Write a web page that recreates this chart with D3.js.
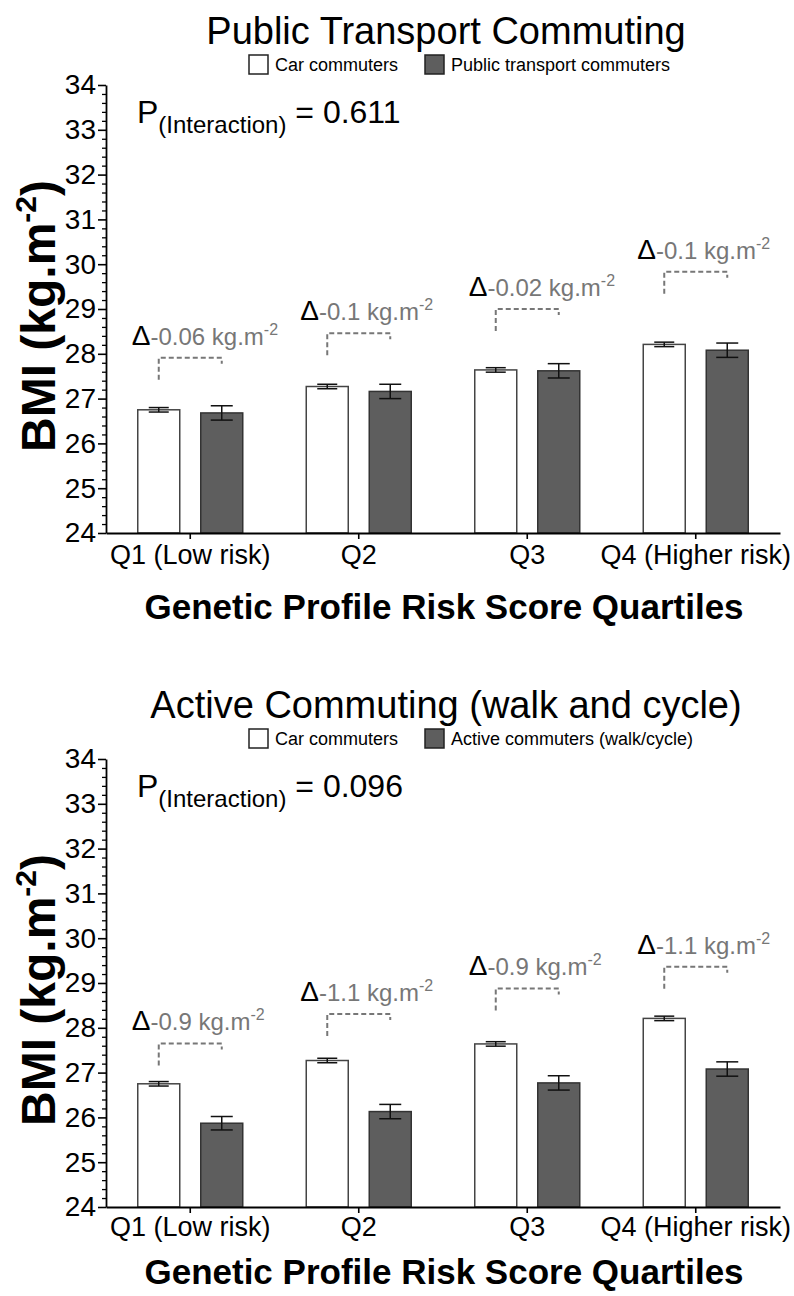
<!DOCTYPE html>
<html>
<head>
<meta charset="utf-8">
<script src="https://cdn.jsdelivr.net/npm/d3@7"></script>
<style>
  html, body { margin: 0; padding: 0; background: #fff; }
  svg { display: block; font-family: "Liberation Sans", Arial, sans-serif; }
</style>
</head>
<body>
<svg id="chart" width="794" height="1296"></svg>
<script>
// ---------------- DATA ----------------
const categories = ["Q1 (Low risk)", "Q2", "Q3", "Q4 (Higher risk)"];
const yTickValues = [24, 25, 26, 27, 28, 29, 30, 31, 32, 33, 34];
const panelTitles = ["Public Transport Commuting", "Active Commuting (walk and cycle)"];
const legendTop = ["Car commuters", "Public transport commuters"];
const legendBottom = ["Car commuters", "Active commuters (walk/cycle)"];
const carMean = [26.75, 27.27, 27.64, 28.21];
const carErr = [0.05, 0.05, 0.05, 0.05];
const ptMean = [26.68, 27.16, 27.62, 28.08];
const ptErr = [0.16, 0.16, 0.16, 0.16];
const activeMean = [25.87, 26.13, 26.77, 27.08];
const activeErr = [0.15, 0.16, 0.16, 0.16];
const ptDelta = ["-0.06", "-0.1", "-0.02", "-0.1"];
const activeDelta = ["-0.9", "-1.1", "-0.9", "-1.1"];
const ptBracket = [27.91, 28.46, 29.0, 29.83];
const activeBracket = [27.65, 28.31, 28.88, 29.36];
const pInteraction = ["0.611", "0.096"];
const yAxisTitle = "BMI (kg.m";
const xAxisTitle = "Genetic Profile Risk Score Quartiles";

// ---------------- DRAW ----------------
const svg = d3.select("#chart");
svg.append("rect").attr("width", 794).attr("height", 1296).attr("fill", "#fff");

const panels = [
  { offset: 0, title: panelTitles[0], legend: legendTop, other: ptMean, otherErr: ptErr,
    delta: ptDelta, bracket: ptBracket, p: pInteraction[0], xTitleY: 619, tickPad: 6 },
  { offset: 674, title: panelTitles[1], legend: legendBottom, other: activeMean, otherErr: activeErr,
    delta: activeDelta, bracket: activeBracket, p: pInteraction[1], xTitleY: 610, tickPad: 4 }
];

const DARK = "#5e5e5e";
const GREY = "#777777";

panels.forEach(P => {
  const g = svg.append("g").attr("transform", `translate(0,${P.offset})`);

  const x = d3.scaleBand().domain(categories).range([106, 780]);
  const x1 = d3.scaleBand().domain(["car", "other"]).range([-52.5, 52.5]).paddingInner(1 / 3);
  const y = d3.scaleLinear().domain([24, 34]).range([533, 85]);

  // Title
  g.append("text").attr("x", 446).attr("y", 44).attr("text-anchor", "middle")
    .attr("font-size", 38).attr("fill", "#000").text(P.title);

  // Legend
  const leg = g.append("g");
  const legItems = [
    { x: 249, fill: "#fff", label: P.legend[0] },
    { x: 425, fill: DARK, label: P.legend[1] }
  ];
  legItems.forEach(it => {
    leg.append("rect").attr("x", it.x).attr("y", 55).attr("width", 19).attr("height", 19)
      .attr("fill", it.fill).attr("stroke", "#222").attr("stroke-width", 1.5);
    leg.append("text").attr("x", it.x + 26).attr("y", 71).attr("font-size", 18)
      .attr("fill", "#000").text(it.label);
  });

  // P(Interaction)
  const pt = g.append("text").attr("x", 137).attr("y", 123).attr("font-size", 32).attr("fill", "#000");
  pt.append("tspan").text("P");
  pt.append("tspan").attr("font-size", 24).attr("dy", 10).text("(Interaction)");
  pt.append("tspan").attr("dy", -10).text(" = " + P.p);

  // Y axis minor ticks
  const minor = d3.range(24, 34.001, 0.2).filter(v => Math.abs(v - Math.round(v)) > 1e-6);
  const yMinor = g.append("g").attr("transform", "translate(106,0)")
    .call(d3.axisLeft(y).tickValues(minor).tickSize(4).tickSizeOuter(0).tickFormat(""));
  yMinor.select(".domain").remove();
  yMinor.selectAll("line").attr("stroke", "#000").attr("stroke-width", 1.3);

  // Y axis major
  const yAx = g.append("g").attr("transform", "translate(106,0)")
    .call(d3.axisLeft(y).tickValues(yTickValues).tickSize(8).tickSizeOuter(0).tickPadding(2).tickFormat(d3.format("d")));
  yAx.select(".domain").attr("stroke", "#000").attr("stroke-width", 1.8);
  yAx.selectAll("line").attr("stroke", "#000").attr("stroke-width", 1.6);
  yAx.selectAll("text").attr("font-size", 28).attr("fill", "#000")
    .attr("font-family", '"Liberation Sans", Arial, sans-serif');

  // Y axis title
  const yt = g.append("text").attr("transform", "translate(55,316) rotate(-90)")
    .attr("text-anchor", "middle").attr("font-size", 48).attr("font-weight", "bold").attr("fill", "#000");
  yt.append("tspan").text(yAxisTitle);
  yt.append("tspan").attr("font-size", 30).attr("dy", -19).text("-2");
  yt.append("tspan").attr("dy", 19).text(")");

  // Bars
  categories.forEach((c, i) => {
    const cx = x(c) + x.bandwidth() / 2;
    const bw = x1.bandwidth();
    const items = [
      { key: "car", v: carMean[i], e: carErr[i], fill: "#fff", stroke: "#444" },
      { key: "other", v: P.other[i], e: P.otherErr[i], fill: DARK, stroke: "#333" }
    ];
    items.forEach(it => {
      const bx = cx + x1(it.key);
      g.append("rect").attr("x", bx).attr("y", y(it.v)).attr("width", bw).attr("height", y(24) - y(it.v))
        .attr("fill", it.fill).attr("stroke", it.stroke).attr("stroke-width", 1.5);
      const mx = bx + bw / 2;
      const capW = it.key === "car" ? 10 : 11;
      g.append("line").attr("x1", mx).attr("x2", mx).attr("y1", y(it.v + it.e)).attr("y2", y(it.v - it.e))
        .attr("stroke", "#111").attr("stroke-width", 1.5);
      [it.v + it.e, it.v - it.e].forEach(ev => {
        g.append("line").attr("x1", mx - capW).attr("x2", mx + capW).attr("y1", y(ev)).attr("y2", y(ev))
          .attr("stroke", "#111").attr("stroke-width", 1.5);
      });
    });

    // Bracket annotation
    const xc = cx + x1("car") + bw / 2;
    const xo = cx + x1("other") + bw / 2;
    const by = y(P.bracket[i]);
    g.append("path").attr("d", `M${xc},${by + 22}V${by}H${xo}V${by + 6}`)
      .attr("fill", "none").attr("stroke", GREY).attr("stroke-width", 2).attr("stroke-dasharray", "5,3");
    const at = g.append("text").attr("x", xc - 27).attr("y", by - 13).attr("fill", GREY).attr("font-size", 24);
    at.append("tspan").attr("fill", "#000").attr("font-size", 28).text("Δ");
    at.append("tspan").text(P.delta[i] + " kg.m");
    at.append("tspan").attr("font-size", 16).attr("dy", -10).text("-2");
  });

  // X axis
  const xAx = g.append("g").attr("transform", "translate(0,533)")
    .call(d3.axisBottom(x).tickSize(6).tickSizeOuter(0).tickPadding(P.tickPad));
  xAx.select(".domain").attr("stroke", "#000").attr("stroke-width", 1.8);
  xAx.selectAll("line").attr("stroke", "#000").attr("stroke-width", 1.6);
  xAx.selectAll("text").attr("font-size", 27).attr("fill", "#000")
    .attr("font-family", '"Liberation Sans", Arial, sans-serif');

  // X axis title
  g.append("text").attr("x", 444).attr("y", P.xTitleY).attr("text-anchor", "middle")
    .attr("font-size", 35).attr("font-weight", "bold").attr("fill", "#000").text(xAxisTitle);
});
</script>
</body>
</html>
